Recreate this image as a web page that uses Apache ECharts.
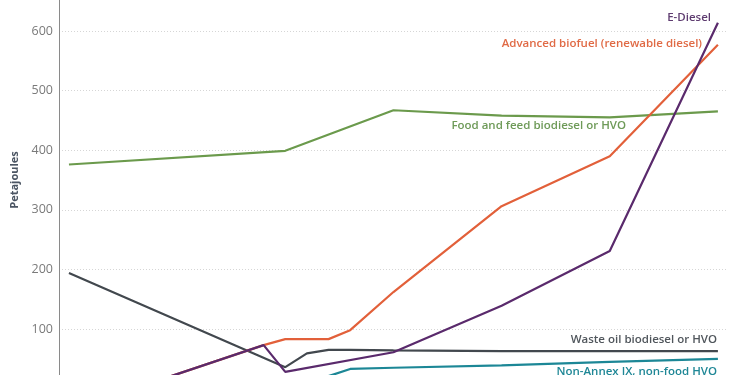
<!DOCTYPE html>
<html>
<head>
<meta charset="utf-8">
<script src="https://cdn.jsdelivr.net/npm/echarts@6/dist/echarts.min.js"></script>
<style>
  html, body { margin: 0; padding: 0; background: #fff; overflow: hidden; width: 750px; height: 375px; }
  /* el gráfico original está recortado: el lienzo es más alto y se desplaza hacia arriba */
  #grafico { width: 750px; height: 430px; margin-top: -30px; }
</style>
</head>
<body>
<div id="grafico"></div>
<script>
// Años (solo los que tienen puntos visibles); los huecos se unen con connectNulls
var anios = [2020, 2023, 2029, 2030, 2031, 2032, 2033, 2035, 2040, 2045, 2050];

var alimentos = [376, null, null, 399, null, null, null, 467, 458, 455, 465];
var residuos = [194, null, null, 36, 59, 65, 65, 64, 63, 63, 63];
var noAnexo = [5, null, null, 12, null, 21, 33, 35, 39, 45, 50];
var avanzado = [0, 0, 73, 83, null, 83, 98, 162, 306, 390, 577];
var eDiesel = [0, 0, 73, 28, null, null, null, 61, 139, 231, 614];

var fuente = "'Open Sans', 'DejaVu Sans', sans-serif";
var desplazamiento = 30;

function pares(valores) {
    return anios.map(function (a, i) { return [a, valores[i]]; });
}

function serie(nombre, valores, color) {
    return {
        name: nombre,
        type: 'line',
        data: pares(valores),
        connectNulls: true,
        showSymbol: false,
        symbol: 'none',
        lineStyle: { color: color, width: 2.2 },
        itemStyle: { color: color },
        animation: false
    };
}

function etiqueta(texto, x, y, color) {
    return {
        type: 'text',
        right: 750 - x,
        top: y + desplazamiento - 8,
        style: {
            text: texto,
            fill: color,
            font: '600 11.5px ' + fuente
        }
    };
}

var grafico = echarts.init(document.getElementById('grafico'));

grafico.setOption({
    backgroundColor: '#ffffff',
    animation: false,
    grid: { left: 59, right: 23, top: 1.4, bottom: 11.4 },
    xAxis: {
        type: 'value',
        min: 2019.54,
        max: 2050.42,
        show: false
    },
    yAxis: {
        type: 'value',
        min: 0,
        max: 700,
        interval: 100,
        name: 'Petajoules',
        nameLocation: 'middle',
        nameGap: 34,
        nameTextStyle: { color: '#4b5563', fontSize: 11, fontWeight: 'bold', fontFamily: fuente },
        axisLine: { show: true, lineStyle: { color: '#8a8a8a', width: 1 } },
        axisTick: { show: false },
        axisLabel: { color: '#7a7a7a', fontSize: 12.5, fontFamily: fuente, margin: 6, showMaxLabel: false },
        splitLine: { show: true, lineStyle: { color: '#d6d6d6', type: [1, 2], width: 1 } }
    },
    series: [
        serie('Food and feed biodiesel or HVO', alimentos, '#6b9a4c'),
        serie('Non-Annex IX, non-food HVO', noAnexo, '#1c8796'),
        serie('Waste oil biodiesel or HVO', residuos, '#42484e'),
        serie('Advanced biofuel (renewable diesel)', avanzado, '#e2603a'),
        serie('E-Diesel', eDiesel, '#5a2a6c')
    ],
    graphic: [
        etiqueta('E-Diesel', 711, 20, '#5e3c70'),
        etiqueta('Advanced biofuel (renewable diesel)', 702, 46, '#e06a45'),
        etiqueta('Food and feed biodiesel or HVO', 626, 128, '#6e9a58'),
        etiqueta('Waste oil biodiesel or HVO', 717, 342, '#50565c'),
        etiqueta('Non-Annex IX, non-food HVO', 717, 374, '#1f8796')
    ]
});
</script>
</body>
</html>
